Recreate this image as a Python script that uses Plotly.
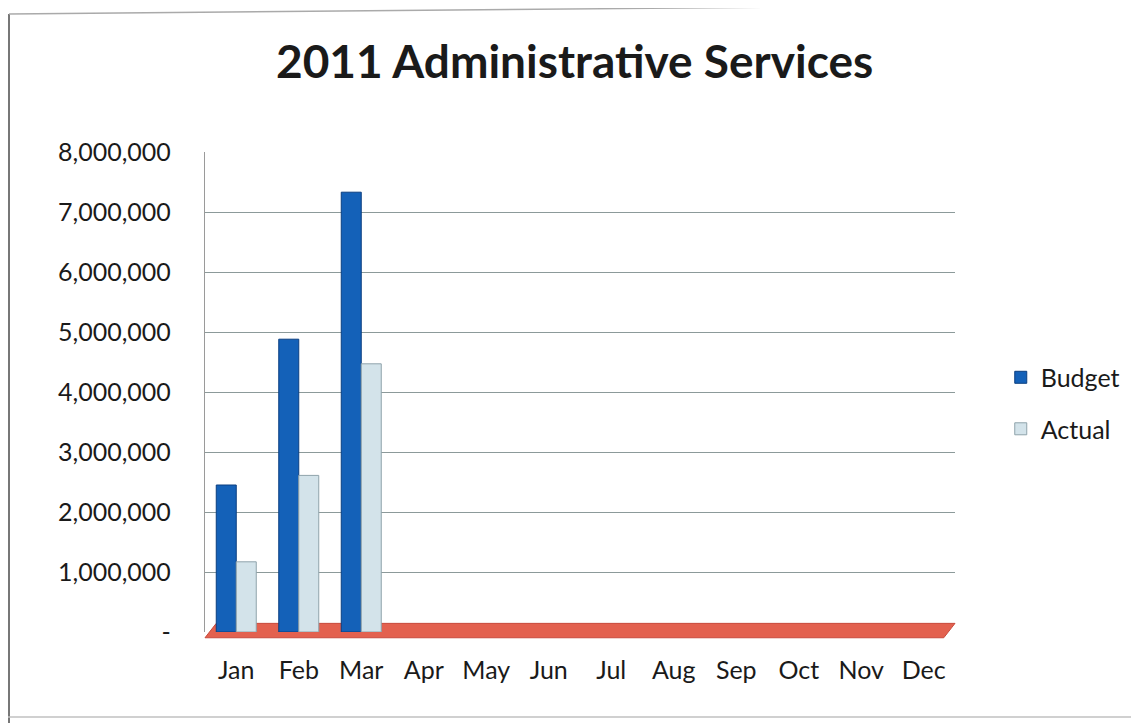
import plotly.graph_objects as go

months = ["Jan", "Feb", "Mar", "Apr", "May", "Jun", "Jul", "Aug", "Sep", "Oct", "Nov", "Dec"]
budget = [2450000, 4880000, 7330000, None, None, None, None, None, None, None, None, None]
actual = [1170000, 2610000, 4470000, None, None, None, None, None, None, None, None, None]
tick_vals = [0, 1000000, 2000000, 3000000, 4000000, 5000000, 6000000, 7000000, 8000000]
tick_text = ["-", "1,000,000", "2,000,000", "3,000,000", "4,000,000", "5,000,000",
             "6,000,000", "7,000,000", "8,000,000"]

FONT = "Lato, 'Open Sans', sans-serif"

# paper-coordinate helpers in page pixels (plot area: x 205..955, y 152..632)
def px(xp):
    return (xp - 205) / 750.0

def py(yp):
    return (632 - yp) / 480.0

fig = go.Figure()
fig.add_trace(go.Bar(name="Budget", x=months, y=budget, legendgroup="b",
                     marker=dict(color="#1461b8", line=dict(color="#0b3f80", width=1))))
fig.add_trace(go.Bar(name="Actual", x=months, y=actual, legendgroup="a",
                     marker=dict(color="#d3e3ea", line=dict(color="#8fa3ab", width=1))))

# red chart floor
fig.add_shape(type="path", xref="x domain", yref="y domain",
              path="M 0,-0.012 L 0.985,-0.012 L 1,0.018 L 0.015,0.018 Z",
              fillcolor="#e3614f", line=dict(color="#c84a3c", width=1), layer="below")
# outer frame (scanned border)
fig.add_shape(type="line", xref="paper", yref="paper",
              x0=px(9), x1=px(9), y0=py(723), y1=py(14),
              line=dict(color="#777777", width=2))
fig.add_shape(type="line", xref="paper", yref="paper",
              x0=px(9), x1=px(1139), y0=py(14), y1=py(4),
              line=dict(color="#aaaaaa", width=1.5))
fig.add_shape(type="line", xref="paper", yref="paper",
              x0=px(0), x1=px(1139), y0=py(717), y1=py(717),
              line=dict(color="#c0c0c0", width=1.5))
fig.add_shape(type="line", xref="paper", yref="paper",
              x0=px(1133), x1=px(1133), y0=py(717), y1=py(6),
              line=dict(color="#e0e0e0", width=1))

fig.update_layout(
    width=1131, height=715,
    paper_bgcolor="white", plot_bgcolor="white",
    margin=dict(l=197, r=184, t=144, b=91),
    barmode="group", bargap=0.36, bargroupgap=0.0,
    title=dict(text="<b>2011 Administrative Services</b>", x=0.501, xanchor="center",
               y=0.9245, yanchor="middle",
               font=dict(family=FONT, size=46, color="#1a1a1a")),
    font=dict(family=FONT, color="#1a1a1a"),
    xaxis=dict(showgrid=False, showline=False, ticks="", tickfont=dict(size=25),
               ticklabelstandoff=21),
    yaxis=dict(range=[0, 8000000], tickvals=tick_vals, ticktext=tick_text,
               showgrid=True, gridcolor="#8c9a9a", gridwidth=1.3,
               showline=True, linecolor="#9a9a9a", linewidth=1.3,
               zeroline=False, tickfont=dict(size=25), ticklabelstandoff=28),
    legend=dict(x=1.061, y=0.477, xanchor="left", yanchor="middle",
                font=dict(size=25), itemwidth=30, tracegroupgap=16,
                traceorder="grouped", bgcolor="rgba(0,0,0,0)"),
)

fig.write_html("out.html")
